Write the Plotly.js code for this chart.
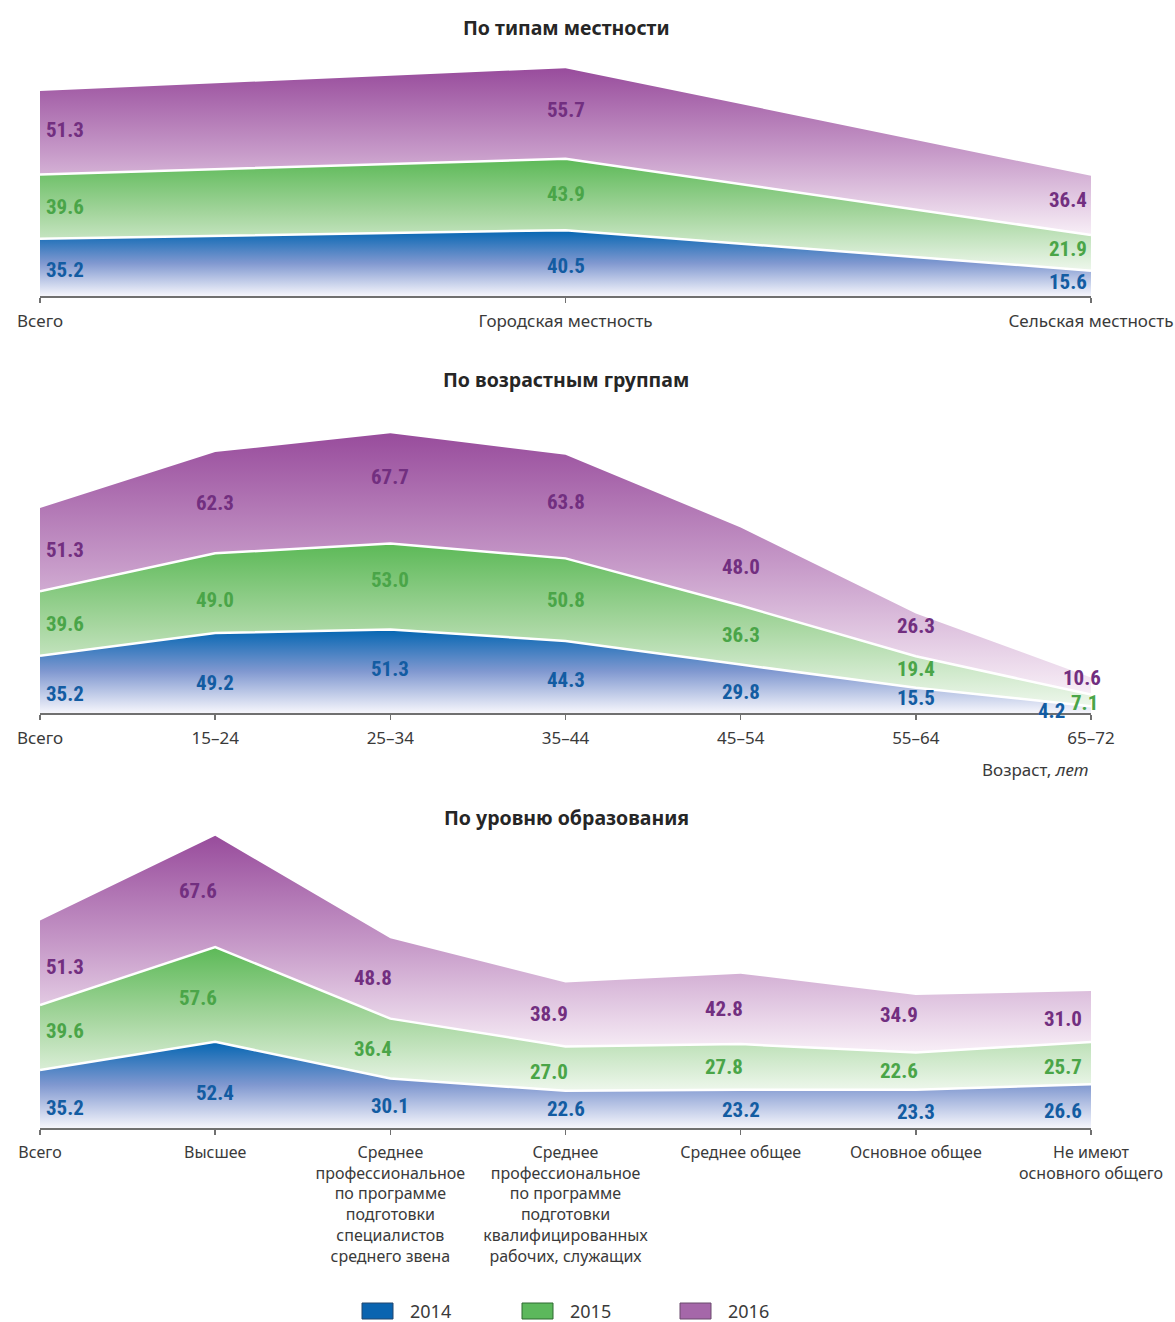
<!DOCTYPE html>
<html>
<head>
<meta charset="utf-8">
<script src="https://cdn.plot.ly/plotly-3.0.1.min.js"></script>
<style>
  html, body { margin: 0; padding: 0; background: #fff; }
  #chart { width: 1175px; height: 1322px; }
</style>
</head>
<body>
<div id="chart"></div>
<script>
// Series names
const years = ['2014', '2015', '2016'];

// Panel 1: by type of locality
const areaTitle = 'По типам местности';
const areaCats = ['Всего', 'Городская местность', 'Сельская местность'];
const area2014 = [35.2, 40.5, 15.6];
const area2015 = [39.6, 43.9, 21.9];
const area2016 = [51.3, 55.7, 36.4];

// Panel 2: by age group
const ageTitle = 'По возрастным группам';
const ageCats = ['Всего', '15–24', '25–34', '35–44', '45–54', '55–64', '65–72'];
const age2014 = [35.2, 49.2, 51.3, 44.3, 29.8, 15.5, 4.2];
const age2015 = [39.6, 49.0, 53.0, 50.8, 36.3, 19.4, 7.1];
const age2016 = [51.3, 62.3, 67.7, 63.8, 48.0, 26.3, 10.6];
const ageAxisNote = 'Возраст, <i>лет</i>';

// Panel 3: by education level
const eduTitle = 'По уровню образования';
const eduCats = [
  'Всего',
  'Высшее',
  'Среднее<br>профессиональное<br>по программе<br>подготовки<br>специалистов<br>среднего звена',
  'Среднее<br>профессиональное<br>по программе<br>подготовки<br>квалифицированных<br>рабочих, служащих',
  'Среднее общее',
  'Основное общее',
  'Не имеют<br>основного общего'
];
const edu2014 = [35.2, 52.4, 30.1, 22.6, 23.2, 23.3, 26.6];
const edu2015 = [39.6, 57.6, 36.4, 27.0, 27.8, 22.6, 25.7];
const edu2016 = [51.3, 67.6, 48.8, 38.9, 42.8, 34.9, 31.0];

// ---- styling ----
const W = 1175, H = 1322;
const X0 = 40, X1 = 1091;            // plot area left/right, px
const baseFamily = 'Noto Sans, Roboto, sans-serif';
const tickFont = { family: baseFamily, size: 17, color: '#3a3a3a' };
const titleFont = { family: baseFamily, size: 19.5, color: '#262626' };
const valueFont = { family: 'Roboto Condensed, Roboto, Open Sans, sans-serif', size: 21, weight: 'bold', stretch: 'condensed' };
const axisColor = '#707070';

const fillScales = [
  [[0, '#f6f6fc'], [0.5, '#8098d0'], [1, '#0466b2']],
  [[0, '#eef7ec'], [0.5, '#a6d69f'], [1, '#5cb957']],
  [[0, '#f8eff7'], [0.5, '#c699c8'], [1, '#984c9c']]
];
const labelColors = ['#135ca2', '#4aa548', '#722f80'];
const swatchFill = ['#0a64b0', '#5cb85c', '#a567a9'];
const swatchLine = ['#23466e', '#2f6b30', '#6a4a6c'];

// geometry of each panel: axis line (baseline) and top of plotting area in px, px per unit
const panels = [
  { title: areaTitle, titleY: 28, cats: areaCats, series: [area2014, area2015, area2016], base: 296, top: 50, k: 1.626, tickSize: 17 },
  { title: ageTitle,  titleY: 380, cats: ageCats, series: [age2014, age2015, age2016],   base: 713, top: 410, k: 1.626, tickSize: 17 },
  { title: eduTitle,  titleY: 817, cats: eduCats, series: [edu2014, edu2015, edu2016],   base: 1128, top: 830, k: 1.645, tickSize: 16 }
];

// hand tuning of label placement: 'panel,series,index' -> [dx, dy] in px (dy > 0 moves down)
const labelNudge = {
  '0,2,0': [0, -3], '0,2,1': [0, -3], '0,2,2': [0, -5], '0,1,2': [0, -4], '0,0,2': [0, -4],
  '1,0,0': [0, 7], '1,0,1': [0, 7], '1,0,2': [0, -5], '1,0,5': [0, -5],
  '1,1,1': [0, 7], '1,1,2': [0, -7], '1,1,5': [0, -3],
  '1,2,2': [0, -11], '1,2,3': [0, -5], '1,2,5': [0, -9],
  '1,0,6': [-22, -2], '1,1,6': [-4, 3], '1,2,6': [-6, -8],
  '2,2,0': [0, 4], '2,2,5': [0, -9], '2,2,6': [0, 3],
  '2,1,0': [0, -7], '2,1,1': [0, 4], '2,1,3': [0, 3], '2,1,6': [0, 4],
  '2,0,0': [0, 6], '2,0,1': [0, 5], '2,0,3': [0, -3], '2,0,4': [0, -2], '2,0,6': [0, 2]
};

const traces = [];
const annotations = [];
const layout = {
  width: W, height: H,
  margin: { l: 0, r: 0, t: 0, b: 0 },
  paper_bgcolor: '#fff', plot_bgcolor: 'rgba(0,0,0,0)',
  showlegend: false,
  font: tickFont,
  shapes: [],
  annotations: annotations
};

panels.forEach((p, pi) => {
  const sfx = pi === 0 ? '' : String(pi + 1);
  const xName = 'x' + sfx, yName = 'y' + sfx;
  const n = p.cats.length;
  const idx = p.cats.map((_, i) => i);

  layout['xaxis' + sfx] = {
    domain: [X0 / W, X1 / W],
    range: [0, n - 1],
    anchor: yName,
    tickmode: 'array', tickvals: idx, ticktext: p.cats,
    showgrid: false, zeroline: false,
    showline: true, linecolor: axisColor, linewidth: 1.5,
    ticks: 'outside', ticklen: 5, tickwidth: 1.5, tickcolor: axisColor,
    tickfont: Object.assign({}, tickFont, { size: p.tickSize }), ticklabelstandoff: 4,
    fixedrange: true
  };
  const yMax = (p.base - p.top) / p.k;
  layout['yaxis' + sfx] = {
    domain: [(H - p.base) / H, (H - p.top) / H],
    range: [0, yMax],
    anchor: xName,
    visible: false, fixedrange: true
  };

  // stacked cumulative tops
  let lower = idx.map(() => 0);
  p.series.forEach((vals, si) => {
    const upper = vals.map((v, i) => +(lower[i] + v).toFixed(3));
    traces.push({
      type: 'scatter', mode: 'lines',
      x: idx, y: upper,
      xaxis: xName, yaxis: yName,
      name: years[si],
      fill: si === 0 ? 'tozeroy' : 'tonexty',
      fillgradient: {
        type: 'vertical',
        start: Math.min(...lower),
        stop: Math.max(...upper),
        colorscale: fillScales[si]
      },
      line: { color: si < 2 ? '#ffffff' : 'rgba(0,0,0,0)', width: si < 2 ? 2.5 : 0 },
      hoverinfo: 'skip'
    });

    // value labels placed in the middle of each band
    vals.forEach((v, i) => {
      const a = {
        x: i, y: (lower[i] + upper[i]) / 2,
        xref: xName, yref: yName,
        text: v.toFixed(1),
        showarrow: false,
        font: Object.assign({}, valueFont, { color: labelColors[si] }),
        xanchor: 'center', yanchor: 'middle',
        borderpad: 0,
        xshift: 0, yshift: 0
      };
      if (i === 0) { a.xanchor = 'left'; a.xshift = 5; }
      if (i === n - 1) { a.xanchor = 'right'; a.xshift = -3; }
      if (si === 0) a.yshift = -3;
      if (pi === 2 && si > 0 && i > 0 && i < n - 1) a.xshift = -17;
      if (pi === 2 && i === n - 1) a.xshift = -8;
      if (pi === 1 && i === n - 1 && si > 0) a.xanchor = 'center';
      const nudge = labelNudge[pi + ',' + si + ',' + i];
      if (nudge) { a.xshift += nudge[0]; a.yshift -= nudge[1]; }
      annotations.push(a);
    });
    lower = upper;
  });

  // panel heading
  annotations.push({
    text: '<b>' + p.title + '</b>',
    xref: 'paper', yref: 'paper',
    x: 566 / W, y: 1 - p.titleY / H,
    xanchor: 'center', yanchor: 'middle',
    showarrow: false, font: titleFont
  });
});

// age axis caption
annotations.push({
  text: ageAxisNote,
  xref: 'paper', yref: 'paper',
  x: X1 / W, y: 1 - 769 / H,
  xanchor: 'right', yanchor: 'middle',
  showarrow: false, font: tickFont
});

// legend: swatches + year labels along the bottom
const legendX = [362, 522, 680];
years.forEach((yr, si) => {
  layout.shapes.push({
    type: 'rect', xref: 'paper', yref: 'paper',
    x0: legendX[si] / W, x1: (legendX[si] + 31) / W,
    y0: 1 - 1319 / H, y1: 1 - 1303 / H,
    fillcolor: swatchFill[si],
    line: { color: swatchLine[si], width: 1 }
  });
  annotations.push({
    text: yr,
    xref: 'paper', yref: 'paper',
    x: (legendX[si] + 46) / W, y: 1 - 1311 / H,
    xanchor: 'left', yanchor: 'middle',
    showarrow: false,
    font: { family: baseFamily, size: 18, color: '#3a3a3a' }
  });
});

Plotly.newPlot('chart', traces, layout, { staticPlot: true, displayModeBar: false });
</script>
</body>
</html>
